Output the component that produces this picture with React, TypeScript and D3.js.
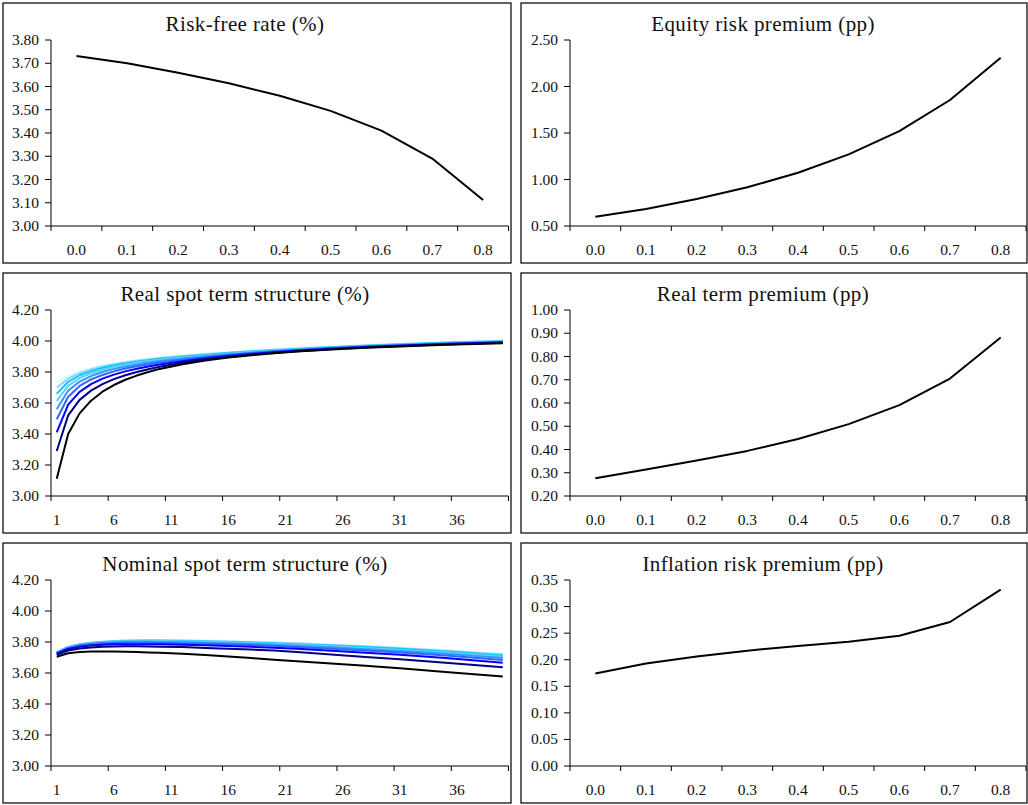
import React from 'react';
import * as d3 from 'd3';

// ---------- data ----------
const PARAMS = ['0.0', '0.1', '0.2', '0.3', '0.4', '0.5', '0.6', '0.7', '0.8'];

const RISK_FREE = [3.731, 3.700, 3.659, 3.614, 3.560, 3.495, 3.410, 3.290, 3.112];
const EQUITY_PREMIUM = [0.600, 0.683, 0.790, 0.916, 1.073, 1.270, 1.520, 1.855, 2.310];
const REAL_TERM_PREMIUM = [0.276, 0.314, 0.353, 0.394, 0.445, 0.509, 0.591, 0.705, 0.882];
const INFLATION_PREMIUM = [0.174, 0.193, 0.206, 0.217, 0.226, 0.234, 0.245, 0.271, 0.332];

const MATURITIES = ['1','2','3','4','5','6','7','8','9','10','11','12','13','14','15','16','17','18','19','20',
  '21','22','23','24','25','26','27','28','29','30','31','32','33','34','35','36','37','38','39','40'];
const MATURITY_LABELS = ['1', '6', '11', '16', '21', '26', '31', '36'];
const SAMPLE_MATURITIES = ['1','2','3','4','5','6','7','8','9','10','12','14','16','18','20','22','25','28','31','35','40'];

// rows: parameter 0.0 ... 0.8
const REAL_SPOT = [
  [3.731, 3.773, 3.803, 3.825, 3.842, 3.856, 3.867, 3.877, 3.885, 3.893, 3.906, 3.918, 3.928, 3.937, 3.945, 3.953, 3.963, 3.972, 3.981, 3.991, 4.002],
  [3.700, 3.757, 3.793, 3.817, 3.835, 3.850, 3.862, 3.872, 3.881, 3.889, 3.903, 3.915, 3.925, 3.935, 3.943, 3.951, 3.962, 3.971, 3.980, 3.990, 4.001],
  [3.659, 3.737, 3.779, 3.806, 3.826, 3.842, 3.855, 3.866, 3.876, 3.885, 3.899, 3.911, 3.922, 3.932, 3.941, 3.949, 3.960, 3.970, 3.978, 3.988, 3.999],
  [3.614, 3.712, 3.761, 3.792, 3.815, 3.833, 3.847, 3.859, 3.870, 3.879, 3.894, 3.907, 3.919, 3.929, 3.938, 3.947, 3.958, 3.968, 3.976, 3.986, 3.997],
  [3.560, 3.680, 3.738, 3.774, 3.800, 3.820, 3.836, 3.849, 3.861, 3.871, 3.887, 3.901, 3.914, 3.925, 3.935, 3.944, 3.956, 3.966, 3.974, 3.984, 3.995],
  [3.495, 3.640, 3.710, 3.752, 3.781, 3.804, 3.822, 3.837, 3.850, 3.861, 3.879, 3.895, 3.909, 3.921, 3.932, 3.941, 3.953, 3.963, 3.972, 3.982, 3.993],
  [3.410, 3.590, 3.672, 3.722, 3.757, 3.783, 3.804, 3.821, 3.836, 3.849, 3.870, 3.888, 3.903, 3.916, 3.928, 3.938, 3.950, 3.961, 3.970, 3.980, 3.991],
  [3.290, 3.520, 3.620, 3.680, 3.722, 3.754, 3.779, 3.800, 3.818, 3.834, 3.859, 3.880, 3.897, 3.911, 3.923, 3.934, 3.947, 3.958, 3.967, 3.977, 3.988],
  [3.112, 3.400, 3.533, 3.615, 3.673, 3.716, 3.750, 3.777, 3.800, 3.820, 3.850, 3.874, 3.893, 3.908, 3.921, 3.932, 3.945, 3.956, 3.965, 3.975, 3.985],
];

const NOMINAL_SPOT = [
  [3.735, 3.769, 3.786, 3.796, 3.803, 3.807, 3.810, 3.812, 3.813, 3.813, 3.811, 3.809, 3.806, 3.802, 3.798, 3.793, 3.784, 3.775, 3.765, 3.749, 3.725],
  [3.734, 3.768, 3.785, 3.795, 3.802, 3.806, 3.809, 3.810, 3.811, 3.811, 3.809, 3.807, 3.803, 3.799, 3.795, 3.790, 3.781, 3.771, 3.760, 3.744, 3.719],
  [3.733, 3.767, 3.784, 3.794, 3.800, 3.804, 3.807, 3.808, 3.808, 3.808, 3.806, 3.804, 3.800, 3.796, 3.792, 3.786, 3.777, 3.767, 3.756, 3.739, 3.713],
  [3.732, 3.765, 3.782, 3.792, 3.798, 3.802, 3.804, 3.805, 3.805, 3.805, 3.803, 3.800, 3.796, 3.792, 3.788, 3.782, 3.772, 3.761, 3.749, 3.732, 3.705],
  [3.730, 3.763, 3.780, 3.789, 3.795, 3.798, 3.800, 3.801, 3.801, 3.800, 3.798, 3.795, 3.791, 3.787, 3.782, 3.776, 3.766, 3.754, 3.742, 3.724, 3.696],
  [3.728, 3.760, 3.776, 3.785, 3.790, 3.793, 3.795, 3.795, 3.795, 3.794, 3.792, 3.789, 3.785, 3.780, 3.775, 3.768, 3.757, 3.745, 3.732, 3.713, 3.684],
  [3.725, 3.755, 3.770, 3.778, 3.782, 3.785, 3.786, 3.786, 3.786, 3.785, 3.783, 3.779, 3.774, 3.769, 3.763, 3.756, 3.744, 3.731, 3.717, 3.697, 3.666],
  [3.718, 3.745, 3.758, 3.765, 3.769, 3.771, 3.772, 3.772, 3.771, 3.770, 3.767, 3.762, 3.757, 3.751, 3.745, 3.735, 3.720, 3.704, 3.688, 3.666, 3.637],
  [3.705, 3.727, 3.735, 3.738, 3.739, 3.738, 3.737, 3.735, 3.733, 3.730, 3.724, 3.716, 3.706, 3.696, 3.686, 3.676, 3.661, 3.647, 3.630, 3.606, 3.577],
];

const CURVE_COLORS = ['#ccffff', '#99ccff', '#00ccff', '#66ccff', '#3399ff', '#3366ff', '#0000ff', '#000080', '#000000'];

const RF_TICKS = [3.0, 3.1, 3.2, 3.3, 3.4, 3.5, 3.6, 3.7, 3.8];
const EQ_TICKS = [0.5, 1.0, 1.5, 2.0, 2.5];
const SPOT_TICKS = [3.0, 3.2, 3.4, 3.6, 3.8, 4.0, 4.2];
const RTP_TICKS = [0.2, 0.3, 0.4, 0.5, 0.6, 0.7, 0.8, 0.9, 1.0];
const INF_TICKS = [0.0, 0.05, 0.1, 0.15, 0.2, 0.25, 0.3, 0.35];

// ---------- layout ----------
const W = 1028;
const H = 805;
const COL_X = [3, 521];
const ROW_Y = [3, 273, 543];
const PANEL_W = [508, 506];
const PANEL_H = 260;
const PLOT_LEFT = [51, 570];
const PLOT_RIGHT = [508.5, 1026];
const PLOT_TOP = 37;
const PLOT_BOTTOM = 223;
const FONT = "'Liberation Serif', 'DejaVu Serif', serif";

type Series = { values: number[]; color: string; keys: string[] };
type Panel = {
  title: string;
  col: number;
  row: number;
  yDomain: [number, number];
  yTicks: number[];
  kind: 'param' | 'term';
  series: Series[];
};

const paramSeries = (values: number[]): Series[] => [{ values, color: '#000000', keys: PARAMS }];
const termSeries = (rows: number[][]): Series[] =>
  rows.map((values, i) => ({ values, color: CURVE_COLORS[i], keys: SAMPLE_MATURITIES }));

const PANELS: Panel[] = [
  { title: 'Risk-free rate (%)', col: 0, row: 0, yDomain: [3.0, 3.8], yTicks: RF_TICKS, kind: 'param', series: paramSeries(RISK_FREE) },
  { title: 'Equity risk premium (pp)', col: 1, row: 0, yDomain: [0.5, 2.5], yTicks: EQ_TICKS, kind: 'param', series: paramSeries(EQUITY_PREMIUM) },
  { title: 'Real spot term structure (%)', col: 0, row: 1, yDomain: [3.0, 4.2], yTicks: SPOT_TICKS, kind: 'term', series: termSeries(REAL_SPOT) },
  { title: 'Real term premium (pp)', col: 1, row: 1, yDomain: [0.2, 1.0], yTicks: RTP_TICKS, kind: 'param', series: paramSeries(REAL_TERM_PREMIUM) },
  { title: 'Nominal spot term structure (%)', col: 0, row: 2, yDomain: [3.0, 4.2], yTicks: SPOT_TICKS, kind: 'term', series: termSeries(NOMINAL_SPOT) },
  { title: 'Inflation risk premium (pp)', col: 1, row: 2, yDomain: [0.0, 0.35], yTicks: INF_TICKS, kind: 'param', series: paramSeries(INFLATION_PREMIUM) },
];

function PanelView({ p }: { p: Panel }) {
  const px = COL_X[p.col];
  const py = ROW_Y[p.row];
  const left = PLOT_LEFT[p.col];
  const right = PLOT_RIGHT[p.col];
  const top = py + PLOT_TOP;
  const bottom = py + PLOT_BOTTOM;
  const domain = p.kind === 'param' ? PARAMS : MATURITIES;
  const x = d3.scaleBand<string>().domain(domain).range([left, right]).padding(0);
  const y = d3.scaleLinear().domain(p.yDomain).range([bottom, top]);
  const bw = x.bandwidth();
  const cx = (k: string) => (x(k) as number) + bw / 2;
  const fmt = d3.format('.2f');

  const tickKeys = p.kind === 'param' ? PARAMS : MATURITY_LABELS;
  const tickXs = tickKeys.map((k) => x(k) as number).concat([right]);
  const labelKeys = p.kind === 'param' ? PARAMS : MATURITY_LABELS;

  const line = d3
    .line<[string, number]>()
    .x((d) => cx(d[0]))
    .y((d) => y(d[1]));

  return (
    <g>
      <rect x={px} y={py} width={PANEL_W[p.col]} height={PANEL_H} fill="#fff" stroke="#111" strokeWidth={1.3} />
      <text x={px + 242} y={py + 28} textAnchor="middle" fontFamily={FONT} fontSize={21} letterSpacing={0.4} fill="#111">
        {p.title}
      </text>
      <line x1={left} x2={left} y1={top} y2={bottom} stroke="#000" strokeWidth={1} />
      {p.yTicks.map((t) => (
        <g key={t}>
          <line x1={left - 6} x2={left} y1={y(t)} y2={y(t)} stroke="#000" strokeWidth={1} />
          <text x={left - 12} y={y(t) + 5} textAnchor="end" fontFamily={FONT} fontSize={15.5} fill="#111">
            {fmt(t)}
          </text>
        </g>
      ))}
      <line x1={left} x2={right} y1={bottom} y2={bottom} stroke="#000" strokeWidth={1} />
      {tickXs.map((tx, i) => (
        <line key={i} x1={tx} x2={tx} y1={bottom} y2={bottom + 5} stroke="#000" strokeWidth={1} />
      ))}
      {labelKeys.map((k) => (
        <text key={k} x={cx(k)} y={bottom + 29} textAnchor="middle" fontFamily={FONT} fontSize={15.5} fill="#111">
          {k}
        </text>
      ))}
      {p.series.map((s, i) => (
        <path
          key={i}
          d={line(s.keys.map((k, j) => [k, s.values[j]] as [string, number])) || ''}
          fill="none"
          stroke={s.color}
          strokeWidth={2}
          strokeLinejoin="round"
        />
      ))}
    </g>
  );
}

export default function App() {
  return (
    <svg
      width={W}
      height={H}
      viewBox={`0 0 ${W} ${H}`}
      style={{ position: 'absolute', left: 0, top: 0, background: '#fff' }}
    >
      <rect x={0} y={0} width={W} height={H} fill="#fff" />
      {PANELS.map((p, i) => (
        <PanelView key={i} p={p} />
      ))}
    </svg>
  );
}
